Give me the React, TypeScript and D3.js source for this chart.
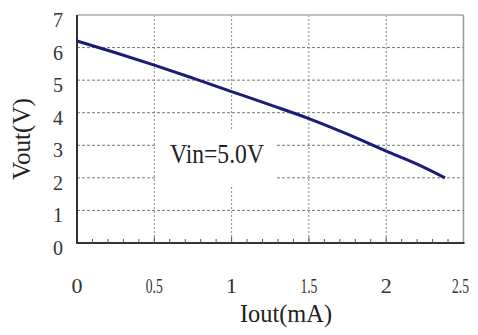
import React from "react";
import * as d3 from "d3";

const iout = [0, 0.25, 0.5, 0.75, 1.0, 1.25, 1.5, 1.75, 2.0, 2.2, 2.38];
const vout = [6.2, 5.84, 5.46, 5.06, 4.65, 4.24, 3.82, 3.34, 2.82, 2.42, 2.0];
const xTicks = [0, 0.5, 1, 1.5, 2, 2.5];
const xTickLabels = ["0", "0.5", "1", "1.5", "2", "2.5"];
const yTicks = [0, 1, 2, 3, 4, 5, 6, 7];
const xGrid = [0.5, 1, 1.5, 2];
const yGrid = [1, 2, 3, 4, 5, 6];
const xMinor = d3.range(1, 25).map((i) => i / 10).filter((v) => Math.abs(v * 2 - Math.round(v * 2)) > 1e-6);
const annotation = "Vin=5.0V";
const xTitle = "Iout(mA)";
const yTitle = "Vout(V)";

export default function App() {
  const W = 478, H = 335;
  const L = 77, R = 463.5, T = 15, B = 243;
  const x = d3.scaleLinear().domain([0, 2.5]).range([L, R]);
  const y = d3.scaleLinear().domain([0, 7]).range([B, T]);
  const line = d3.line<number>().x((_, i) => x(iout[i])).y((d) => y(d)).curve(d3.curveMonotoneX);
  const fs = { fontFamily: "'Liberation Serif', 'DejaVu Serif', serif" };
  return (
    <svg width={W} height={H} style={{ position: "absolute", left: 0, top: 0, background: "#fff" }}>
      <rect x={0} y={0} width={W} height={H} fill="#fff" />
      {yGrid.map((v) => (
        <line key={"hy" + v} x1={L} x2={R} y1={y(v)} y2={y(v)} stroke="#777" strokeWidth={1} strokeDasharray="3,2" />
      ))}
      {xGrid.map((v) => (
        <line key={"vx" + v} x1={x(v)} x2={x(v)} y1={T} y2={B} stroke="#888" strokeWidth={1} strokeDasharray="2,2" />
      ))}
      <rect x={157} y={130} width={120} height={55} fill="#fff" />
      <text x={170} y={163} style={fs} fontSize={28} fill="#222" textLength={94} lengthAdjust="spacingAndGlyphs">
        {annotation}
      </text>
      <line x1={L} x2={R} y1={T} y2={T} stroke="#aaa" strokeWidth={1.5} />
      <line x1={R} x2={R} y1={T} y2={B} stroke="#999" strokeWidth={1.5} />
      <line x1={L} x2={L} y1={T} y2={B + 1} stroke="#333" strokeWidth={2} />
      <line x1={L - 1} x2={R + 1} y1={B} y2={B} stroke="#333" strokeWidth={2} />
      {xMinor.map((v) => (
        <line key={"mt" + v} x1={x(v)} x2={x(v)} y1={B} y2={B - 4} stroke="#555" strokeWidth={1} />
      ))}
      {xTicks.slice(1, 5).map((v) => (
        <line key={"Mt" + v} x1={x(v)} x2={x(v)} y1={B} y2={B - 6} stroke="#555" strokeWidth={1} />
      ))}
      <path d={line(vout) || ""} fill="none" stroke="#1c1c78" strokeWidth={3} strokeLinejoin="round" />
      {yTicks.map((v) => (
        <text key={"yl" + v} x={63} y={y(v) + 12} textAnchor="end" style={fs} fontSize={20} fill="#333">
          {v}
        </text>
      ))}
      {xTicks.map((v, i) => (
        <text key={"xl" + v} x={i === 5 ? x(v) - 3 : x(v)} y={293} textAnchor="middle" style={fs} fontSize={22} fill="#333"
          textLength={xTickLabels[i].length > 1 ? 17 : undefined} lengthAdjust="spacingAndGlyphs">
          {xTickLabels[i]}
        </text>
      ))}
      <text x={286} y={322} textAnchor="middle" style={fs} fontSize={25} fill="#222" textLength={92} lengthAdjust="spacingAndGlyphs">
        {xTitle}
      </text>
      <text transform={`translate(30,139) rotate(-90)`} textAnchor="middle" style={fs} fontSize={25} fill="#222" textLength={82} lengthAdjust="spacingAndGlyphs">
        {yTitle}
      </text>
    </svg>
  );
}
